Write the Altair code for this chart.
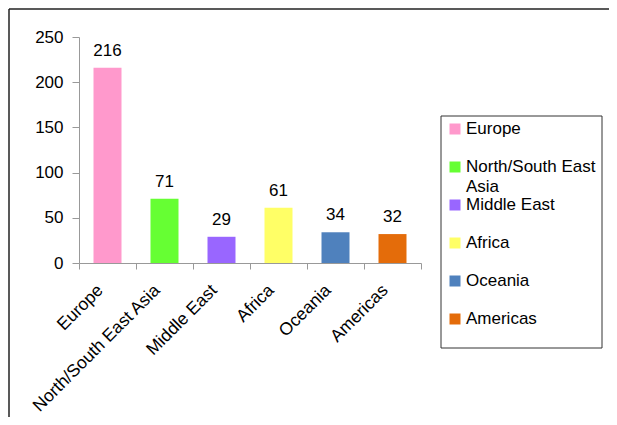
import altair as alt
import pandas as pd

regions = ["Europe", "North/South East Asia", "Middle East", "Africa", "Oceania", "Americas"]
legend_labels = ["Europe", "North/South East\nAsia", "Middle East", "Africa", "Oceania", "Americas"]
counts = [216, 71, 29, 61, 34, 32]
colors = ["#FF99CC", "#66FF33", "#9966FF", "#FFFF66", "#4F81BD", "#E46C0A"]
y_ticks = [0, 50, 100, 150, 200, 250]

df = pd.DataFrame({"region": regions, "count": counts, "legend_label": legend_labels})

FONT = "Liberation Sans"
color_scale = alt.Scale(domain=regions, range=colors)

base = alt.Chart(df).encode(
    x=alt.X(
        "region:N",
        sort=regions,
        title=None,
        scale=alt.Scale(paddingInner=0, paddingOuter=0),
        axis=alt.Axis(
            labelAngle=-45,
            tickBand="extent",
            domainColor="#999999",
            tickColor="#999999",
            tickSize=6,
            labelFont=FONT,
            labelFontSize=17.5,
            labelColor="black",
            labelPadding=12,
            labelOffset=-14,
        ),
    ),
    y=alt.Y(
        "count:Q",
        title=None,
        scale=alt.Scale(domain=[0, 250]),
        axis=alt.Axis(
            values=y_ticks,
            grid=False,
            domainColor="#999999",
            tickColor="#999999",
            tickSize=7,
            labelFont=FONT,
            labelFontSize=17,
            labelColor="black",
            labelPadding=9,
        ),
    ),
)

bars = base.mark_bar(size=28).encode(
    color=alt.Color("region:N", sort=regions, scale=color_scale, legend=None)
)

texts = base.mark_text(dy=-8, baseline="bottom", font=FONT, fontSize=17, color="black").encode(
    text="count:Q"
)

# manual legend (rows through a band scale of its own)
leg_y = alt.Y(
    "region:N",
    sort=regions,
    axis=None,
    scale=alt.Scale(range=[73, 301], paddingInner=0, paddingOuter=0),
)
leg_box = alt.Chart(pd.DataFrame({"k": [0]})).mark_rect(
    fill="white", stroke="#333333", strokeWidth=1
).encode(x=alt.value(362), x2=alt.value(523), y=alt.value(79), y2=alt.value(311))
leg_sym = alt.Chart(df).mark_square(size=121, opacity=1).encode(
    x=alt.value(376),
    y=leg_y,
    color=alt.Color("region:N", sort=regions, scale=color_scale, legend=None),
)
leg_txt = alt.Chart(df).mark_text(
    align="left", baseline="middle", font=FONT, fontSize=17, color="black", lineBreak="\n",
    lineHeight=20,
).encode(x=alt.value(387), y=leg_y, text="legend_label:N")
legend = alt.layer(leg_box, leg_sym, leg_txt)

frame_df = pd.DataFrame({"k": [0]})
frame_top = alt.Chart(frame_df).mark_rule(color="#222222", strokeWidth=1.5).encode(
    x=alt.value(-70), x2=alt.value(560), y=alt.value(-28)
)
frame_left = alt.Chart(frame_df).mark_rule(color="#222222", strokeWidth=1.5).encode(
    x=alt.value(-70), y=alt.value(-28), y2=alt.value(420)
)

chart = (
    alt.layer(alt.layer(bars, texts), legend, frame_top, frame_left)
    .resolve_scale(y="independent")
    .properties(
        width=342,
        height=226,
        autosize=alt.AutoSizeParams(type="none"),
        padding={"left": 71, "top": 29, "right": 188, "bottom": 154},
    )
    .configure_view(stroke=None)
)

chart.save("out.html", embed_options={"renderer": "svg", "actions": False})
